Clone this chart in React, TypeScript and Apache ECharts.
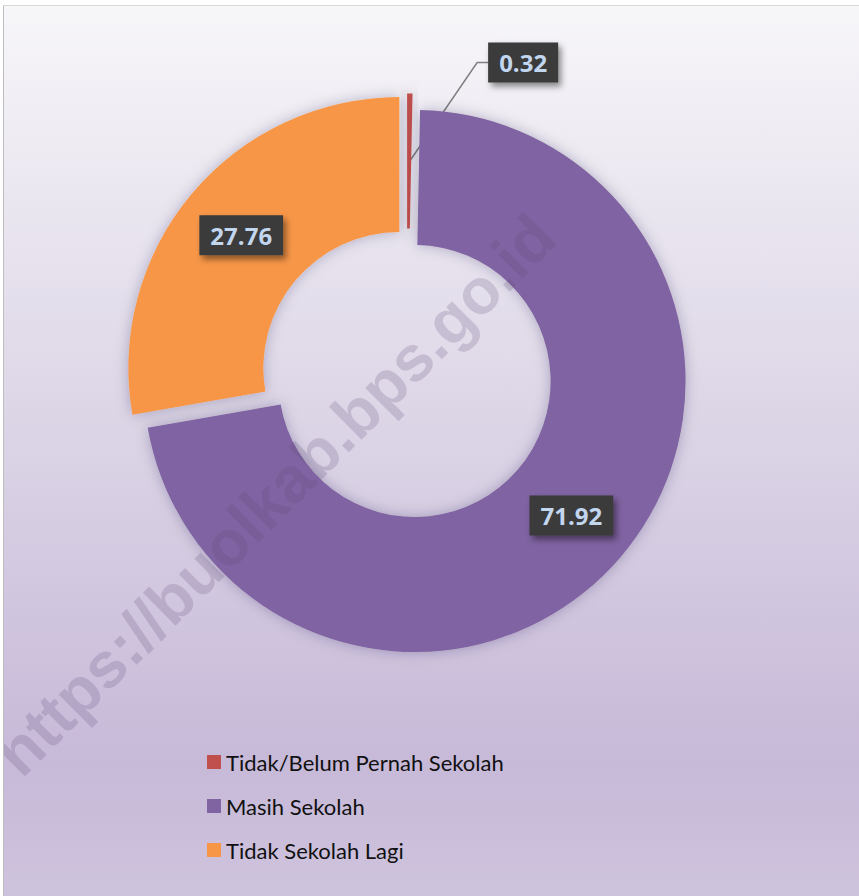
import React, { useEffect, useRef } from "react";
import * as echarts from "echarts";

const categories = ["Tidak/Belum Pernah Sekolah", "Masih Sekolah", "Tidak Sekolah Lagi"];
const values = [0.32, 71.92, 27.76];
const colors = ["#c0504d", "#8064a2", "#f79646"];
const labelPlacement = ["outside", "inside", "inside"];
const watermark = "https://buolkab.bps.go.id";

export default function App() {
  const ref = useRef<HTMLDivElement>(null);
  useEffect(() => {
    if (!ref.current) return;
    const chart = echarts.init(ref.current, null, { renderer: "svg" });
    const inner = 136;
    const outer = 271;
    const labelStyle = {
      color: "#c3d6ef",
      fontFamily: "Open Sans",
      fontWeight: "bold" as const,
      fontSize: 24,
      lineHeight: 24,
      backgroundColor: "#3a3a3a",
      padding: [8, 11],
      shadowColor: "rgba(0,0,0,0.45)",
      shadowBlur: 6,
      shadowOffsetX: 3,
      shadowOffsetY: 4,
    };
    chart.setOption({
      animation: false,
      backgroundColor: {
        type: "linear",
        x: 0,
        y: 0,
        x2: 0,
        y2: 1,
        colorStops: [
          { offset: 0, color: "#f7f6f9" },
          { offset: 0.45, color: "#ddd6e7" },
          { offset: 0.85, color: "#c7b9d8" },
          { offset: 1, color: "#cec3dd" },
        ],
      },
      legend: {
        orient: "vertical",
        left: 198,
        top: 740,
        icon: "rect",
        itemWidth: 14,
        itemHeight: 14,
        itemGap: 22,
        selectedMode: false,
        textStyle: { fontFamily: "Lato", fontSize: 22, lineHeight: 22, color: "#111111" },
        data: categories,
      },
      graphic: [
        {
          type: "text",
          x: 271,
          y: 489,
          rotation: Math.PI / 4,
          z: 100,
          silent: true,
          style: {
            text: watermark,
            font: "bold 64px 'Liberation Sans'",
            fill: "rgba(90,70,115,0.2)",
            align: "center",
            verticalAlign: "middle",
          },
        },
      ],
      series: [
        {
          type: "pie",
          center: [403, 368.5],
          radius: [inner, outer],
          startAngle: 90,
          clockwise: true,
          selectedMode: "multiple",
          selectedOffset: 10,
          avoidLabelOverlap: false,
          emphasis: { disabled: true },
          itemStyle: { shadowBlur: 14, shadowColor: "rgba(40,20,60,0.25)" },
          select: { itemStyle: { borderWidth: 0 } },
          label: {
            show: true,
            position: "outside",
            formatter: "{c}",
            distanceToLabelLine: 0,
            ...labelStyle,
          },
          labelLine: {
            show: true,
            length: 31,
            length2: 78,
            lineStyle: { color: "#7f7f7f", width: 1.5 },
          },
          labelLayout: (params: any) => {
            if (params.dataIndex !== 0 || !params.labelLinePoints) return {};
            const pts = params.labelLinePoints;
            const p0 = pts[0];
            const p2 = pts[pts.length - 1];
            return {
              labelLinePoints: [
                [p0[0], p0[1] + (outer - inner) / 2],
                [p2[0] - 11, p2[1]],
                [p2[0], p2[1]],
              ],
            };
          },
          data: categories.map((name, i) => ({
            name,
            value: values[i],
            selected: true,
            itemStyle: { color: colors[i] },
            label: { position: labelPlacement[i] },
            labelLine: { show: labelPlacement[i] === "outside" },
          })),
        },
      ],
    });
    return () => chart.dispose();
  }, []);
  return (
    <div style={{ position: "absolute", left: 0, top: 0, width: 859, height: 896, background: "#ffffff", overflow: "hidden" }}>
      <div
        style={{
          position: "absolute",
          left: 3,
          top: 5,
          borderLeft: "1px solid #bfbfbf",
          borderTop: "1px solid #d9d9d9",
        }}
      >
        <div ref={ref} style={{ width: 855, height: 890 }} />
      </div>
    </div>
  );
}
